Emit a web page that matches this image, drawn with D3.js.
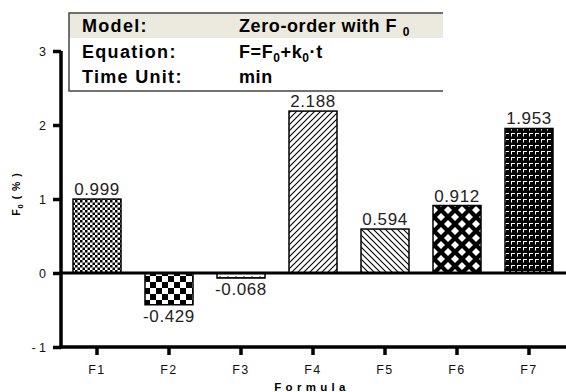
<!DOCTYPE html>
<html>
<head>
<meta charset="utf-8">
<script src="https://cdn.jsdelivr.net/npm/d3@7"></script>
<style>
  body { margin: 0; background: #fff; }
  svg { display: block; font-family: "Liberation Sans", Arial, sans-serif; }
</style>
</head>
<body>
<svg id="chart" width="566" height="392"></svg>
<script>
// Chart data
const formulas = ["F1", "F2", "F3", "F4", "F5", "F6", "F7"];
const f0Values = [0.999, -0.429, -0.068, 2.188, 0.594, 0.912, 1.953];
const patternIds = ["fine-check", "big-check", "brick", "diag-up", "diag-down", "diamond", "corner"];
const yTicks = [-1, 0, 1, 2, 3];
const yTickLabels = ["- 1", "0", "1", "2", "3"];
const tableRows = [
  ["Model:", "Zero-order with F", "0"],
  ["Equation:", null, null],
  ["Time Unit:", "min", null]
];

const svg = d3.select("#chart");

const x = d3.scaleBand()
  .domain(formulas)
  .range([61, 565])
  .paddingInner(1 / 3)
  .paddingOuter(1 / 6);

const y = d3.scaleLinear().domain([-1, 3]).range([347, 51]);

// Fill patterns for the bars
const defs = svg.append("defs");

function pattern(id, w, h, bg) {
  const p = defs.append("pattern")
    .attr("id", id)
    .attr("patternUnits", "userSpaceOnUse")
    .attr("width", w)
    .attr("height", h);
  p.append("rect").attr("width", w).attr("height", h).attr("fill", bg);
  return p;
}

let p = pattern("fine-check", 5, 5, "#fff");
p.append("rect").attr("width", 2.5).attr("height", 2.5).attr("fill", "#000");
p.append("rect").attr("x", 2.5).attr("y", 2.5).attr("width", 2.5).attr("height", 2.5).attr("fill", "#000");

p = pattern("big-check", 12, 12, "#fff");
p.append("rect").attr("width", 6).attr("height", 6).attr("fill", "#000");
p.append("rect").attr("x", 6).attr("y", 6).attr("width", 6).attr("height", 6).attr("fill", "#000");

p = pattern("brick", 8, 5, "#fff");
p.append("path").attr("d", "M0,2.5H8M4,1V4").attr("stroke", "#333").attr("stroke-width", 1);

p = pattern("diag-up", 6, 6, "#fff");
p.append("path").attr("d", "M-1,1L1,-1M0,6L6,0M5,7L7,5").attr("stroke", "#000").attr("stroke-width", 1.1);

p = pattern("diag-down", 6, 6, "#fff");
p.append("path").attr("d", "M-1,5L1,7M0,0L6,6M5,-1L7,1").attr("stroke", "#000").attr("stroke-width", 1.1);

p = pattern("diamond", 14, 14, "#000");
p.append("path")
  .attr("d", "M7,3L11,7L7,11L3,7Z M0,-4L4,0L0,4L-4,0Z M14,-4L18,0L14,4L10,0Z M0,10L4,14L0,18L-4,14Z M14,10L18,14L14,18L10,14Z")
  .attr("fill", "#fff");

p = pattern("corner", 6, 6, "#000");
p.append("path").attr("d", "M1.5,1.5H5M1.5,1V4.5").attr("stroke", "#fff").attr("stroke-width", 1);

// Bars
const bars = formulas.map((f, i) => ({ name: f, value: f0Values[i], fill: patternIds[i] }));

svg.append("g")
  .selectAll("rect")
  .data(bars)
  .join("rect")
  .attr("x", d => x(d.name))
  .attr("width", x.bandwidth())
  .attr("y", d => y(Math.max(0, d.value)))
  .attr("height", d => Math.abs(y(d.value) - y(0)))
  .attr("fill", d => `url(#${d.fill})`)
  .attr("stroke", "#000")
  .attr("stroke-width", 1.5);

// Value labels
svg.append("g")
  .selectAll("text")
  .data(bars)
  .join("text")
  .attr("x", d => x(d.name) + x.bandwidth() / 2)
  .attr("y", d => d.value >= 0 ? y(d.value) - 4 : y(d.value) + 17)
  .attr("text-anchor", "middle")
  .attr("font-size", 17)
  .attr("letter-spacing", 0.6)
  .attr("fill", "#222")
  .text(d => d.value.toFixed(3));

// Zero line
svg.append("line")
  .attr("x1", 61).attr("x2", 566)
  .attr("y1", y(0)).attr("y2", y(0))
  .style("stroke", "#000")
  .style("stroke-width", "3px");

// Axes
const yAxis = svg.append("g")
  .attr("transform", "translate(61,0)")
  .call(d3.axisLeft(y).tickValues(yTicks).tickSize(8).tickSizeOuter(0)
    .tickFormat((d, i) => yTickLabels[i]));

const xAxis = svg.append("g")
  .attr("transform", `translate(0,${y(-1)})`)
  .call(d3.axisBottom(x).tickSize(8).tickSizeOuter(0));

[yAxis, xAxis].forEach(g => {
  g.select(".domain").style("stroke", "#000").style("stroke-width", "3.5px");
  g.selectAll(".tick line").style("stroke", "#000").style("stroke-width", "3.5px");
  g.selectAll(".tick text")
    .attr("font-family", "Liberation Sans, Arial, sans-serif")
    .attr("font-size", 12.5)
    .attr("fill", "#111");
});
xAxis.select(".domain").attr("d", "M59.5,0H566");
yAxis.select(".domain").attr("d", "M0,51V348.5");
yAxis.selectAll(".tick text").attr("x", -15);
xAxis.selectAll(".tick text").attr("y", 18).attr("letter-spacing", 1.5);

// Axis titles
svg.append("text")
  .attr("transform", "translate(20,194) rotate(-90)")
  .attr("text-anchor", "middle")
  .attr("font-size", 10.5)
  .attr("font-weight", "bold")
  .attr("letter-spacing", 1)
  .call(t => {
    t.append("tspan").text("F");
    t.append("tspan").attr("font-size", 7.5).attr("dy", 3).text("0");
    t.append("tspan").attr("dy", -3).text(" ( % )");
  });

svg.append("text")
  .attr("x", 312)
  .attr("y", 391)
  .attr("text-anchor", "middle")
  .attr("font-size", 11.5)
  .attr("font-weight", "bold")
  .attr("letter-spacing", 4.3)
  .text("Formula");

// Model info table
const table = svg.append("g");
table.append("rect")
  .attr("x", 69).attr("y", 13).attr("width", 374).attr("height", 25)
  .attr("fill", "#ece9df");
table.append("path")
  .attr("d", "M443,13H69V91H443")
  .attr("fill", "none")
  .attr("stroke", "#444")
  .attr("stroke-width", 1.5);

const rowY = [32, 58, 83];
tableRows.forEach((row, i) => {
  table.append("text")
    .attr("x", 82).attr("y", rowY[i])
    .attr("font-size", 18).attr("font-weight", "bold")
    .attr("letter-spacing", 1.3)
    .text(row[0]);
});

const col2 = table.append("g").attr("font-size", 18).attr("font-weight", "bold").attr("letter-spacing", 0.6);
col2.append("text").attr("x", 239).attr("y", rowY[0])
  .call(t => {
    t.append("tspan").text(tableRows[0][1] + " ");
    t.append("tspan").attr("font-size", 12).attr("dy", 4).text(tableRows[0][2]);
  });
col2.append("text").attr("x", 239).attr("y", rowY[1])
  .call(t => {
    t.append("tspan").text("F=F");
    t.append("tspan").attr("font-size", 12).attr("dy", 4).text("0");
    t.append("tspan").attr("dy", -4).text("+k");
    t.append("tspan").attr("font-size", 12).attr("dy", 4).text("0");
    t.append("tspan").attr("dy", -4).text("·t");
  });
col2.append("text").attr("x", 239).attr("y", rowY[2]).text(tableRows[2][1]);
</script>
</body>
</html>
